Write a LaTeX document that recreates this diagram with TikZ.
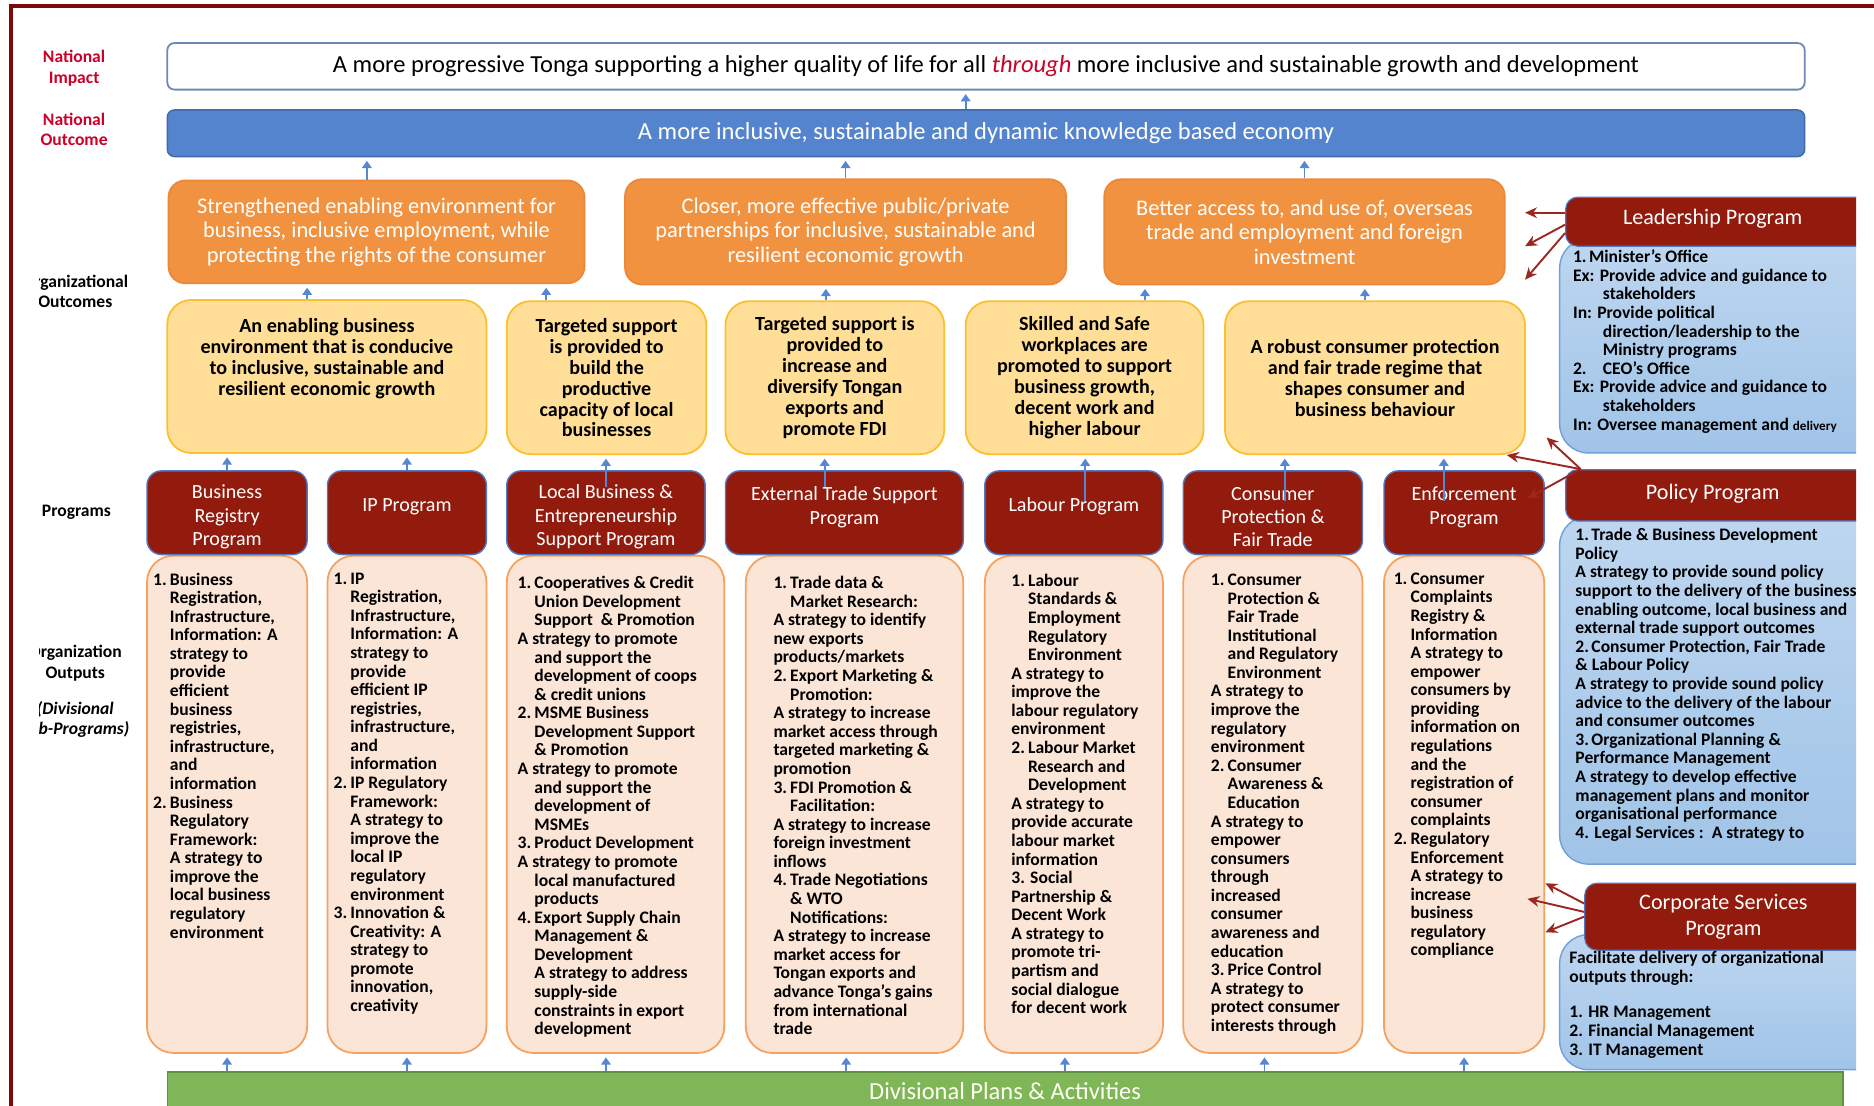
\documentclass[tikz,border=0pt]{standalone}
\usepackage{fontspec}
\setmainfont{Carlito}
\usetikzlibrary{arrows.meta}

\definecolor{framered}{RGB}{125,10,10}
\definecolor{lblred}{RGB}{204,0,40}
\definecolor{impline}{RGB}{110,135,180}
\definecolor{natblue}{RGB}{84,132,206}
\definecolor{natline}{RGB}{65,105,170}
\definecolor{orgorange}{RGB}{241,146,64}
\definecolor{orgline}{RGB}{236,136,58}
\definecolor{outyellow}{RGB}{255,222,152}
\definecolor{yelline}{RGB}{250,192,45}
\definecolor{progred}{RGB}{146,27,13}
\definecolor{progline}{RGB}{80,120,195}
\definecolor{subpeach}{RGB}{251,229,214}
\definecolor{subline}{RGB}{244,162,98}
\definecolor{bodytop}{RGB}{190,214,240}
\definecolor{bodybot}{RGB}{160,196,232}
\definecolor{bodyline}{RGB}{115,160,215}
\definecolor{plangreen}{RGB}{126,182,88}
\definecolor{planline}{RGB}{95,145,65}
\definecolor{arrblue}{RGB}{85,135,210}
\definecolor{arrred}{RGB}{155,40,32}

\newcommand{\numb}[1]{\makebox[14pt][l]{#1}}
\newcommand{\indt}{\hspace*{14pt}}
\newcommand{\colfont}{\fontsize{14.7}{15.55}\selectfont\bfseries}

\tikzset{
  lbl/.style={align=center, inner sep=0pt, font=\fontsize{14.7}{17}\selectfont\bfseries},
  natlbl/.style={lbl, text=lblred},
  impbox/.style={draw=impline, line width=1.5pt, fill=white, rounded corners=6pt, inner sep=0pt, font=\fontsize{20.5}{22}\selectfont},
  natbox/.style={draw=natline, line width=1.2pt, fill=natblue, rounded corners=6pt, inner sep=0pt, text=white, font=\fontsize{20.5}{22}\selectfont},
  orgbox/.style={draw=orgline, line width=1.5pt, fill=orgorange, rounded corners=14pt, inner sep=0pt, text=white, align=center, font=\fontsize{18.7}{20.5}\selectfont},
  outbox/.style={draw=yelline, line width=1.5pt, fill=outyellow, rounded corners=20pt, inner sep=0pt, align=center, minimum height=128pt, font=\fontsize{16.8}{17.5}\selectfont\bfseries},
  progbox/.style={draw=progline, line width=1.2pt, fill=progred, rounded corners=12pt, inner sep=0pt, minimum height=70pt},
  progtxt/.style={text=white, align=center, inner sep=0pt, font=\fontsize{16.8}{19.5}\selectfont},
  subbox/.style={draw=subline, line width=1.5pt, fill=subpeach, rounded corners=22pt, inner sep=0pt, minimum height=416pt},
  subtxt/.style={anchor=north west, align=left, inner sep=0pt, font=\colfont},
  headbox/.style={draw=progline, line width=1pt, fill=progred, rounded corners=10pt, inner sep=0pt},
  headtxt/.style={text=white, align=center, inner sep=0pt, font=\fontsize{18.5}{22}\selectfont},
  bodybox/.style={draw=bodyline, line width=1.2pt, top color=bodytop, bottom color=bodybot, rounded corners=24pt, inner sep=0pt},
  bodytxt/.style={anchor=north west, align=left, inner sep=0pt, font=\colfont},
  planbox/.style={draw=planline, line width=1.2pt, fill=plangreen, inner sep=0pt, text=white!95!yellow, font=\fontsize{20.5}{22}\selectfont},
  upar/.style={draw=arrblue, line width=1.4pt, -{Triangle[width=8pt,length=6pt]}, shorten >=3pt},
  redar/.style={draw=arrred, line width=1.6pt, -{Stealth[width=9pt,length=10pt]}}
}

\begin{document}
\begin{tikzpicture}[x=1pt,y=-1pt]
\useasboundingbox (0,0) rectangle (1568,925);
\draw[framered, line width=3pt] (9,925) -- (9,5) -- (1568,5);

% level labels on the left
\begin{scope}
  \clip (33,0) rectangle (140,925);
  \node[natlbl] (lblimp) at (62,57) {National\\Impact};
  \node[natlbl] (lblnat) at (62,108) {National\\Outcome};
  \node[lbl] (lblorg) at (63,244) {Organizational\\Outcomes};
  \node[lbl] (lblprog) at (64,429) {Programs};
  \node[lbl] (lblsub) at (63,555) {Organization\\Outputs};
  \node[lbl, font=\fontsize{14.7}{17}\selectfont\bfseries\itshape] (lbldiv) at (63,602) {(Divisional\\Sub-Programs)};
\end{scope}

% national level
\node[impbox, minimum width=1370pt, minimum height=39pt] (imp) at (825,55.5) {A more progressive Tonga supporting a higher quality of life for all \textcolor{lblred}{\textit{through}} more inclusive and sustainable growth and development};
\node[natbox, minimum width=1370pt, minimum height=39pt] (natout) at (825,111.5) {A more inclusive, sustainable and dynamic knowledge based economy};

% organizational outcomes
\node[orgbox, minimum width=348pt, minimum height=86pt] (org1) at (315,194) {Strengthened enabling environment for\\business, inclusive employment, while\\protecting the rights of the consumer};
\node[orgbox, minimum width=369pt, minimum height=88pt] (org2) at (707.5,194) {Closer, more effective public/private\\partnerships for inclusive, sustainable and\\resilient economic growth};
\node[orgbox, minimum width=335pt, minimum height=88pt] (org3) at (1091.5,194) {Better access to, and use of, overseas\\trade and employment and foreign\\investment};

\node[outbox, minimum width=267pt] (out1) at (273.5,315) {};
\node[lbl, font=\fontsize{16.8}{17.5}\selectfont\bfseries] (out1t) at (273.5,300) {An enabling business\\environment that is conducive\\to inclusive, sustainable and\\resilient economic growth};
\node[outbox, minimum width=167pt] (out2) at (507.5,316) {Targeted support\\is provided to\\build the\\productive\\capacity of local\\businesses};
\node[outbox, minimum width=183pt] (out3) at (698.5,316) {Targeted support is\\provided to\\increase and\\diversify Tongan\\exports and\\promote FDI};
\node[outbox, minimum width=199pt] (out4) at (907.5,316) {Skilled and Safe\\workplaces are\\promoted to support\\business growth,\\decent work and\\higher labour};
\node[outbox, minimum width=251pt] (out5) at (1150.5,316) {A robust consumer protection\\and fair trade regime that\\shapes consumer and\\business behaviour};

% sub-programs
\node[subbox, minimum width=134pt] (sub1) at (190,673) {};
\node[subbox, minimum width=133pt] (sub2) at (340.5,673) {};
\node[subbox, minimum width=182pt] (sub3) at (515,673) {};
\node[subbox, minimum width=182pt] (sub4) at (715,673) {};
\node[subbox, minimum width=149pt] (sub5) at (898.5,673) {};
\node[subbox, minimum width=150pt] (sub6) at (1065,673) {};
\node[subbox, minimum width=134pt] (sub7) at (1225,673) {};

\node[subtxt] (sub1t) at (128,479) {\numb{1.}Business\\\indt Registration,\\\indt Infrastructure,\\\indt Information: A\\\indt strategy to\\\indt provide\\\indt efficient\\\indt business\\\indt registries,\\\indt infrastructure,\\\indt and\\\indt information\\\numb{2.}Business\\\indt Regulatory\\\indt Framework:\\\indt A strategy to\\\indt improve the\\\indt local business\\\indt regulatory\\\indt environment};
\node[subtxt] (sub2t) at (279,479) {\numb{1.}IP\\\indt Registration,\\\indt Infrastructure,\\\indt Information: A\\\indt strategy to\\\indt provide\\\indt efficient IP\\\indt registries,\\\indt infrastructure,\\\indt and\\\indt information\\\numb{2.}IP Regulatory\\\indt Framework:\\\indt A strategy to\\\indt improve the\\\indt local IP\\\indt regulatory\\\indt environment\\\numb{3.}Innovation \&\\\indt Creativity: A\\\indt strategy to\\\indt promote\\\indt innovation,\\\indt creativity};
\node[subtxt] (sub3t) at (433,482) {\numb{1.}Cooperatives \& Credit\\\indt Union Development\\\indt Support\ \ \& Promotion\\A strategy to promote\\\indt and support the\\\indt development of coops\\\indt \& credit unions\\\numb{2.}MSME Business\\\indt Development Support\\\indt \& Promotion\\A strategy to promote\\\indt and support the\\\indt development of\\\indt MSMEs\\\numb{3.}Product Development\\A strategy to promote\\\indt local manufactured\\\indt products\\\numb{4.}Export Supply Chain\\\indt Management \&\\\indt Development\\\indt A strategy to address\\\indt supply-side\\\indt constraints in export\\\indt development};
\node[subtxt] (sub4t) at (647,482) {\numb{1.}Trade data \&\\\indt Market Research:\\A strategy to identify\\new exports\\products/markets\\\numb{2.}Export Marketing \&\\\indt Promotion:\\A strategy to increase\\market access through\\targeted marketing \&\\promotion\\\numb{3.}FDI Promotion \&\\\indt Facilitation:\\A strategy to increase\\foreign investment\\inflows\\\numb{4.}Trade Negotiations\\\indt \& WTO\\\indt Notifications:\\A strategy to increase\\market access for\\Tongan exports and\\advance Tonga’s gains\\from international\\trade};
\node[subtxt] (sub5t) at (846,480) {\numb{1.}Labour\\\indt Standards \&\\\indt Employment\\\indt Regulatory\\\indt Environment\\A strategy to\\improve the\\labour regulatory\\environment\\\numb{2.}Labour Market\\\indt Research and\\\indt Development\\A strategy to\\provide accurate\\labour market\\information\\3. Social\\Partnership \&\\Decent Work\\A strategy to\\promote tri-\\partism and\\social dialogue\\for decent work};
\node[subtxt] (sub6t) at (1013,480) {\numb{1.}Consumer\\\indt Protection \&\\\indt Fair Trade\\\indt Institutional\\\indt and Regulatory\\\indt Environment\\A strategy to\\improve the\\regulatory\\environment\\\numb{2.}Consumer\\\indt Awareness \&\\\indt Education\\A strategy to\\empower\\consumers\\through\\increased\\consumer\\awareness and\\education\\\numb{3.}Price Control\\A strategy to\\protect consumer\\interests through};
\node[subtxt] (sub7t) at (1166,479) {\numb{1.}Consumer\\\indt Complaints\\\indt Registry \&\\\indt Information\\\indt A strategy to\\\indt empower\\\indt consumers by\\\indt providing\\\indt information on\\\indt regulations\\\indt and the\\\indt registration of\\\indt consumer\\\indt complaints\\\numb{2.}Regulatory\\\indt Enforcement\\\indt A strategy to\\\indt increase\\\indt business\\\indt regulatory\\\indt compliance};

% programs
\node[progbox, minimum width=134pt] (prog1) at (190,429) {};
\node[progbox, minimum width=133pt] (prog2) at (340.5,429) {};
\node[progbox, minimum width=166pt] (prog3) at (507,429) {};
\node[progbox, minimum width=199pt] (prog4) at (706.5,429) {};
\node[progbox, minimum width=149pt] (prog5) at (898.5,429) {};
\node[progbox, minimum width=150pt] (prog6) at (1065,429) {};
\node[progbox, minimum width=134pt] (prog7) at (1225,429) {};
\node[progtxt] (prog1t) at (190,432.5) {Business\\Registry\\Program};
\node[progtxt] (prog2t) at (340.5,424) {IP Program};
\node[progtxt] (prog3t) at (507,432.5) {Local Business \&\\Entrepreneurship\\Support Program};
\node[progtxt] (prog4t) at (706.5,424.5) {External Trade Support\\Program};
\node[progtxt] (prog5t) at (898.5,424) {Labour Program};
\node[progtxt] (prog6t) at (1065,432.5) {Consumer\\Protection \&\\Fair Trade};
\node[progtxt] (prog7t) at (1225,424.5) {Enforcement\\Program};

% support programs on the right
\begin{scope}
  \clip (1290,150) rectangle (1553,900);
  \node[bodybox, minimum width=285pt, minimum height=179pt] (leadbody) at (1447.5,289.5) {};
  \node[bodybox, minimum width=285pt, minimum height=291pt] (polbody) at (1447.5,577.5) {};
  \node[bodybox, minimum width=285pt, minimum height=113pt] (corpbody) at (1447.5,838.5) {};
  \node[headbox, minimum width=270pt, minimum height=41pt] (lead) at (1445,185.5) {};
  \node[headbox, minimum width=270pt, minimum height=43pt] (pol) at (1445,414.5) {};
  \node[headbox, minimum width=254pt, minimum height=56pt] (corp) at (1453,767) {};
\end{scope}
\node[headtxt] (leadt) at (1433,183) {Leadership Program};
\node[headtxt] (polt) at (1433,413) {Policy Program};
\node[headtxt] (corpt) at (1442,767) {Corporate Services\\Program};
\node[bodytxt] (leadbodyt) at (1316,209) {1.\hspace{2pt}Minister’s Office\\Ex: Provide advice and guidance to\\\hspace*{25pt}stakeholders\\In: Provide political\\\hspace*{25pt}direction/leadership to the\\\hspace*{25pt}Ministry programs\\\makebox[25pt][l]{2.}CEO’s Office\\Ex: Provide advice and guidance to\\\hspace*{25pt}stakeholders\\In: Oversee management and {\fontsize{11}{15.55}\selectfont delivery}};
\node[bodytxt] (polbodyt) at (1318,442) {1.\hspace{2pt}Trade \& Business Development\\Policy\\A strategy to provide sound policy\\support to the delivery of the business\\enabling outcome, local business and\\external trade support outcomes\\2.\hspace{2pt}Consumer Protection, Fair Trade\\\& Labour Policy\\A strategy to provide sound policy\\advice to the delivery of the labour\\and consumer outcomes\\3.\hspace{2pt}Organizational Planning \&\\Performance Management\\A strategy to develop effective\\management plans and monitor\\organisational performance\\4. Legal Services :\ \ A strategy to};
\node[bodytxt] (corpbodyt) at (1313,796) {Facilitate delivery of organizational\\outputs through:\\[14pt]1. HR Management\\2. Financial Management\\3. IT Management};

% plans bar
\node[planbox, minimum width=1402pt, minimum height=32pt] (plans) at (841,913) {Divisional Plans \& Activities};

% arrows up the chain
\draw[upar] ([xshift=-17pt]natout.north) -- ([xshift=-17pt]imp.south);
\draw[upar] ([xshift=-8pt]org1.north) -- ([xshift=-8pt]org1.north |- natout.south);
\draw[upar] (org2.north) -- (org2.north |- natout.south);
\draw[upar] (org3.north) -- (org3.north |- natout.south);
\draw[upar] ([xshift=-16.5pt]out1.north) -- ([xshift=-16.5pt]out1.north |- org1.south);
\draw[upar] ([xshift=-50.5pt]out2.north) -- ([xshift=-50.5pt]out2.north |- org1.south);
\draw[upar] ([xshift=-7.5pt]out3.north) -- ([xshift=-7.5pt]out3.north |- org2.south);
\draw[upar] ([xshift=50.5pt]out4.north) -- ([xshift=50.5pt]out4.north |- org3.south);
\draw[upar] ([xshift=-8.5pt]out5.north) -- ([xshift=-8.5pt]out5.north |- org3.south);
\draw[upar] (prog1.north) -- (prog1.north |- out1.south);
\draw[upar] (prog2.north) -- (prog2.north |- out1.south);
\draw[upar] ([yshift=-14pt]prog3.north) -- (prog3.north |- out2.south);
\draw[upar] ([xshift=-16.5pt,yshift=-14pt]prog4.north) -- ([xshift=-16.5pt]prog4.north |- out3.south);
\draw[upar] ([xshift=9.5pt,yshift=-26pt]prog5.north) -- ([xshift=9.5pt]prog5.north |- out4.south);
\draw[upar] ([xshift=10pt,yshift=-26pt]prog6.north) -- ([xshift=10pt]prog6.north |- out5.south);
\draw[upar] ([xshift=-17pt,yshift=-26pt]prog7.north) -- ([xshift=-17pt]prog7.north |- out5.south);
\draw[upar] (sub1.south |- plans.north) -- (sub1.south);
\draw[upar] (sub2.south |- plans.north) -- (sub2.south);
\draw[upar] ([xshift=-8pt]sub3.south |- plans.north) -- ([xshift=-8pt]sub3.south);
\draw[upar] ([xshift=-7pt]sub4.south |- plans.north) -- ([xshift=-7pt]sub4.south);
\draw[upar] ([xshift=-7.5pt]sub5.south |- plans.north) -- ([xshift=-7.5pt]sub5.south);
\draw[upar] ([xshift=-7pt]sub6.south |- plans.north) -- ([xshift=-7pt]sub6.south);
\draw[upar] (sub7.south |- plans.north) -- (sub7.south);

% support arrows
\coordinate (leadtip1) at (1276,178);
\coordinate (leadtip2) at (1276,206);
\coordinate (leadtip3) at (1276,234);
\coordinate (poltip1) at (1294,366);
\coordinate (poltip3) at (1278,417);
\coordinate (corptip1) at (1293,739);
\coordinate (corptip2) at (1278,752);
\coordinate (corptip3) at (1293,780);
\draw[redar] ([yshift=7.5pt]lead.west) -- (leadtip1);
\draw[redar] ([yshift=-2.5pt]lead.west) -- (leadtip2);
\draw[redar] ([yshift=-9.5pt]lead.west) -- (leadtip3);
\draw[redar] ([xshift=13pt]pol.north west) -- (poltip1);
\draw[redar] ([xshift=13pt]pol.north west) -- ([xshift=-16pt]out5.south east);
\draw[redar] ([xshift=13pt]pol.north west) -- (poltip3);
\draw[redar] ([yshift=11pt]corp.west) -- (corptip1);
\draw[redar] ([yshift=4pt]corp.west) -- (corptip2);
\draw[redar] (corp.west) -- (corptip3);
\end{tikzpicture}
\end{document}
